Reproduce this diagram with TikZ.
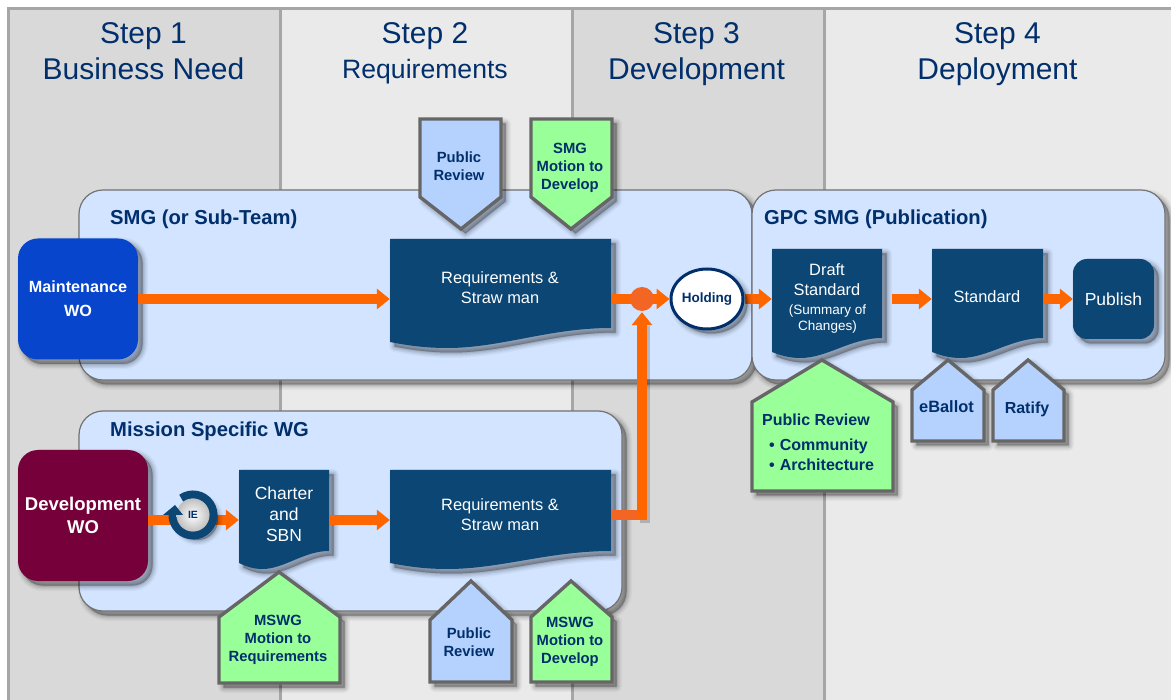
\documentclass[tikz,border=0pt]{standalone}
\usepackage{fontspec}
\setmainfont{Liberation Sans}
\usetikzlibrary{arrows.meta,shapes.geometric,calc}
\definecolor{navy}{HTML}{002F6C}
\definecolor{docblue}{HTML}{0B4675}
\definecolor{panelblue}{HTML}{D2E4FF}
\definecolor{tagblue}{HTML}{B5D2FF}
\definecolor{taggreen}{HTML}{99FF99}
\definecolor{colA}{HTML}{D9D9D9}
\definecolor{colB}{HTML}{EAEAEA}
\definecolor{rulegray}{HTML}{A6A6A6}
\definecolor{orangeline}{HTML}{FF6600}
\definecolor{mainblue}{HTML}{0645CC}
\definecolor{devred}{HTML}{76003A}
\definecolor{juncorange}{HTML}{F26522}
\definecolor{taggray}{HTML}{666666}
\pgfdeclarelayer{bg}
\pgfdeclarelayer{arrowsl}
\pgfdeclarelayer{top}
\pgfsetlayers{bg,main,arrowsl,top}
\tikzset{
  shlayer/.style n args={3}{preaction={draw=black,fill=black,draw opacity=#2,fill opacity=#3,line width=#1,line join=round,transform canvas={shift={(4.5pt,-4.5pt)}}}},
  softshadow/.style={shlayer={11pt}{.035}{.05},shlayer={8pt}{.05}{.05},shlayer={5.5pt}{.06}{.06},shlayer={3pt}{.07}{.07},shlayer={1pt}{.08}{.08}},
  panel/.style={softshadow,draw=gray!90!black,line width=1.2pt,fill=panelblue,rounded corners=24pt,inner sep=0pt},
  paneltitle/.style={anchor=west,text=navy,inner sep=0pt,font=\fontsize{20.2}{23}\selectfont\bfseries},
  steptext/.style={text=navy,align=center,inner sep=0pt,font=\fontsize{30}{36}\selectfont},
  docfill/.style={softshadow,fill=docblue},
  docbox/.style={inner sep=0pt},
  doctext/.style={text=white,align=center,inner sep=0pt,font=\fontsize{16.4}{20}\selectfont},
  wobox/.style={softshadow,rounded corners=20pt,inner sep=0pt,text=white,align=center},
  tagshape/.style={softshadow,draw=taggray,line width=3.4pt,line join=miter},
  tagtext/.style={text=navy,align=center,inner sep=0pt,font=\fontsize{14.8}{18}\selectfont\bfseries},
  flow/.style={draw=orangeline,line width=10pt,-{Triangle[length=13pt,width=20pt]}},
  flowshadow/.style={draw=black,draw opacity=.18,line width=10pt,transform canvas={shift={(3pt,-3pt)}}}
}
\newcommand{\docshape}[7]{%
  \path[docfill] (#2,#3) -- (#4,#3) -- (#4,#5)
    .. controls ({#4-.28*(#4-#2)},#5) and ({#2+.5*(#4-#2)},#7) .. ({#2+.26*(#4-#2)},#7)
    .. controls ({#2+.15*(#4-#2)},#7) and ({#2+.07*(#4-#2)},{#6+3}) .. (#2,#6) -- cycle;
  \node[docbox,minimum width={(#4-#2)*1pt},minimum height={(#5-#3)*1pt}] (#1) at ({(#2+#4)/2},{(#3+#5)/2}) {};
}
\begin{document}
\begin{tikzpicture}[x=1pt,y=-1pt]
\useasboundingbox (0,0) rectangle (1171,700);
\begin{pgfonlayer}{bg}
  \fill[white] (0,0) rectangle (1171,700);
  \fill[colA] (8,8) rectangle (280,700);
  \fill[colB] (280,8) rectangle (572,700);
  \fill[colA] (572,8) rectangle (824,700);
  \fill[colB] (824,8) rectangle (1171,700);
  \draw[rulegray,line width=3pt] (8.5,700) -- (8.5,8.5) -- (1171,8.5);
  \draw[rulegray,line width=3pt] (280,8.5) -- (280,700);
  \draw[rulegray,line width=3pt] (572,8.5) -- (572,700);
  \draw[rulegray,line width=3pt] (824,8.5) -- (824,700);
  \node[steptext] (s1) at (143.5,51) {Step 1\\Business Need};
  \node[steptext,font=\fontsize{30}{35}\selectfont] (s2) at (425,53) {Step 2\\{\fontsize{26.6}{35}\selectfont Requirements}};
  \node[steptext] (s3) at (696.5,54) {Step 3\\Development};
  \node[steptext] (s4) at (997.5,54) {Step 4\\Deployment};
  \node[panel,minimum width=673pt,minimum height=190pt] (smg) at (415.5,285) {};
  \node[panel,minimum width=543pt,minimum height=200pt] (msw) at (350.5,511) {};
  \node[panel,minimum width=413pt,minimum height=190pt] (gpc) at (958.5,285) {};
\end{pgfonlayer}

\node[paneltitle] (smgt) at (110,219.5) {SMG (or Sub-Team)};
\node[paneltitle] (mswt) at (110,431) {Mission Specific WG};
\node[paneltitle] (gpct) at (764,219.5) {GPC SMG (Publication)};

\node[wobox,fill=mainblue,minimum width=120pt,minimum height=121pt,font=\fontsize{16.2}{24}\selectfont\bfseries] (maint) at (78,299) {\raisebox{-1.5pt}{Maintenance}\\\raisebox{-1.5pt}{WO}};
\node[wobox,fill=devred,minimum width=130pt,minimum height=131pt,font=\fontsize{18.5}{23}\selectfont\bfseries] (dev) at (83,515.5) {\raisebox{-1pt}{Development}\\\raisebox{-1pt}{WO}};

\docshape{req1}{390}{239}{611}{328}{342}{348}
\node[doctext] (req1t) at (500,287.5) {Requirements \&\\Straw man};
\docshape{req2}{390}{470}{611}{551}{563}{569}
\node[doctext] (req2t) at (500,514.5) {Requirements \&\\Straw man};
\docshape{chart}{239}{470}{329}{551}{563}{569}
\node[doctext,font=\fontsize{17.5}{20.8}\selectfont] (chartt) at (284,514) {Charter\\and\\SBN};
\docshape{draft}{772}{249}{882}{338}{352}{358}
\node[doctext,font=\fontsize{16.4}{20.5}\selectfont] (draftt) at (827,279.5) {Draft\\Standard};
\node[doctext,font=\fontsize{13.5}{16}\selectfont] (drafts) at (827.5,319) {(Summary of\\Changes)};
\docshape{std}{932}{249}{1043}{338}{352}{358}
\node[doctext] (stdt) at (987,297) {Standard};
\node[softshadow,fill=docblue,rounded corners=14pt,minimum width=81pt,minimum height=80pt,inner sep=0pt,text=white,font=\fontsize{17.5}{20}\selectfont] (pub) at (1113.5,299) {Publish};

% tags
\draw[tagshape,fill=tagblue] (420,119) -- (501,119) -- (501,197) -- (461,229) -- (420,197) -- cycle;
\node[tagtext] (tpr1) at (459,166) {Public\\Review};
\draw[tagshape,fill=taggreen] (531,119) -- (612,119) -- (612,197) -- (571,229) -- (531,197) -- cycle;
\node[tagtext] (tsmg) at (570,168) {SMG\\Motion to\\Develop};
\draw[tagshape,fill=taggreen] (219,617) -- (279,572) -- (340,617) -- (340,683) -- (219,683) -- cycle;
\node[tagtext] (tmr) at (278,640) {MSWG\\Motion to\\Requirements};
\draw[tagshape,fill=tagblue] (430,620) -- (471,581) -- (512,620) -- (512,682) -- (430,682) -- cycle;
\node[tagtext] (tpr2) at (469,642) {Public\\Review};
\draw[tagshape,fill=taggreen] (531,617) -- (571,581) -- (612,617) -- (612,682) -- (531,682) -- cycle;
\node[tagtext] (tmd) at (570,642) {MSWG\\Motion to\\Develop};
\draw[tagshape,fill=taggreen] (752,402) -- (822,360) -- (893,402) -- (893,491) -- (752,491) -- cycle;
\node[tagtext,align=left,anchor=north west,font=\fontsize{16}{20}\selectfont\bfseries] (tpub) at (762,414) {Public Review\\[5pt]\hspace*{7pt}•\hspace{5pt}Community\\\hspace*{7pt}•\hspace{5pt}Architecture};
\draw[tagshape,fill=tagblue] (912,390) -- (948,360) -- (984,390) -- (984,441) -- (912,441) -- cycle;
\node[tagtext,font=\fontsize{16.4}{18}\selectfont\bfseries] (teb) at (946.5,407) {eBallot};
\draw[tagshape,fill=tagblue] (993,390) -- (1028,360) -- (1064,390) -- (1064,441) -- (993,441) -- cycle;
\node[tagtext,font=\fontsize{16}{18}\selectfont\bfseries] (trat) at (1027,409) {Ratify};

% top items
\begin{pgfonlayer}{top}
  \node[circle,fill=juncorange,minimum size=24pt,inner sep=0pt] (junc) at (642,299) {};
  \node[ellipse,softshadow,draw=navy,line width=3pt,fill=white,minimum width=72pt,minimum height=60pt,inner sep=0pt,text=navy,font=\fontsize{13.5}{15}\selectfont\bfseries] (hold) at (707,299) {Holding};
  \begin{scope}[shift={(193,515)},y=1pt]
    \path[softshadow,draw=docblue,line width=8pt] (125:20.5) arc[start angle=125,end angle=-180,radius=20.5];
  \end{scope}
  \node[circle,inner color=white,outer color=black!25,minimum size=33pt,inner sep=0pt,text=navy,font=\fontsize{10.5}{12}\selectfont\bfseries] (ie) at (193,515) {IE};
  \begin{scope}[shift={(193,515)},y=1pt]
    \fill[docblue] (-30,0) -- (-10,0) -- (-18,10) -- cycle;
  \end{scope}
\end{pgfonlayer}

% connectors
\begin{pgfonlayer}{arrowsl}
  \draw[flow] (maint.east) -- (maint -| req1.west);
  \draw[flow] (req1.east |- hold) -- (hold.west);
  \draw[flow] (hold.east) -- (hold -| draft.west);
  \draw[flow,shorten <=10pt] (draft.east |- hold) -- (hold -| std.west);
  \draw[flow] (std.east |- hold) -- (hold -| pub.west);
  \coordinate (lowy) at (0,520);
  \draw[flow] (dev.east |- lowy) -- (lowy -| chart.west);
  \draw[flow] (chart.east |- lowy) -- (lowy -| req2.west);
  \coordinate (lowz) at (0,515);
  \coordinate (corner) at ($(lowz -| junc)+(0,5)$);
  \path[flowshadow] (corner) -- ($(junc.south)+(0,12)$);
  \draw[juncorange,line width=10pt] (req2.east |- lowz) -- ($(lowz -| junc)+(-4,0)$);
  \draw[flow] (corner) -- ([yshift=-1pt]junc.south);
\end{pgfonlayer}
\end{tikzpicture}
\end{document}
